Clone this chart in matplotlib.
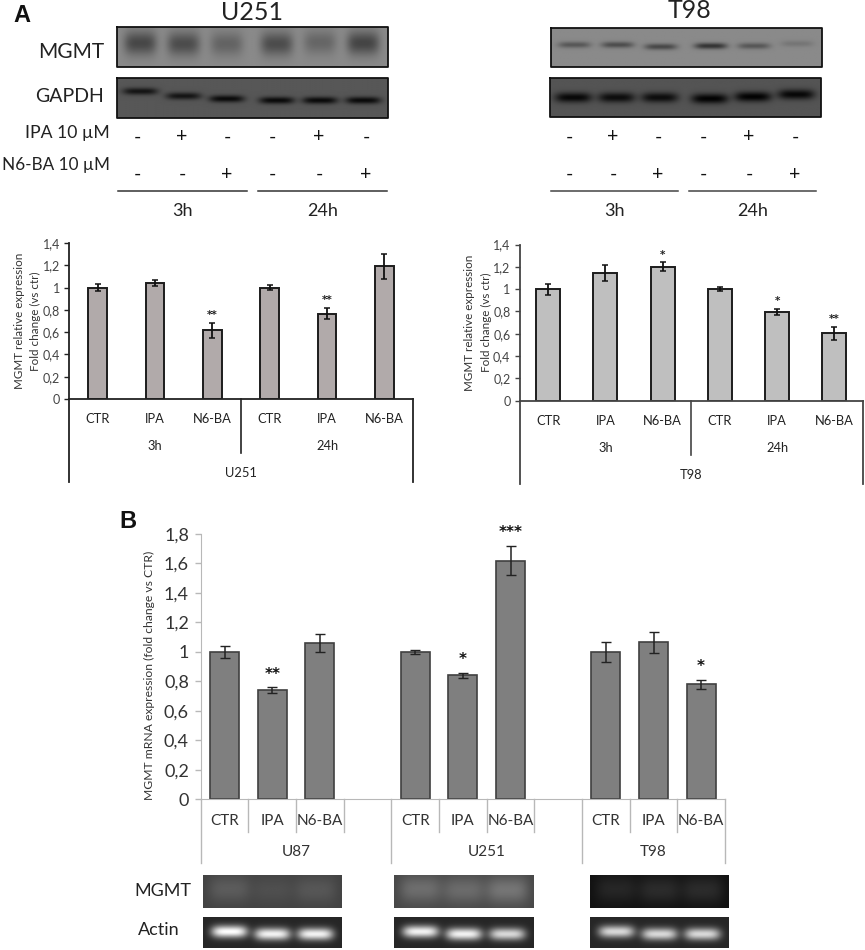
import numpy as np
import matplotlib
matplotlib.use("Agg")
import matplotlib.pyplot as plt

plt.rcParams['font.family'] = ['Lato', 'DejaVu Sans']

W, H = 865, 950

# panel A
cats_a = ['CTR', 'IPA', 'N6-BA', 'CTR', 'IPA', 'N6-BA']
times = ['3h', '24h']
u251_vals = [1.0, 1.04, 0.615, 1.0, 0.765, 1.19]
u251_errs = [0.03, 0.025, 0.07, 0.025, 0.05, 0.11]
u251_stars = ['', '', '**', '', '**', '']
t98_vals = [1.0, 1.145, 1.2, 1.0, 0.795, 0.605]
t98_errs = [0.05, 0.07, 0.04, 0.02, 0.03, 0.06]
t98_stars = ['', '', '*', '', '*', '**']
ipa_signs = ['-', '+', '-', '-', '+', '-']
n6_signs = ['-', '-', '+', '-', '-', '+']

# panel B
cats_b = ['CTR', 'IPA', 'N6-BA']
lines_b = ['U87', 'U251', 'T98']
mrna_vals = [[1.0, 0.74, 1.06], [1.0, 0.84, 1.62], [1.0, 1.065, 0.78]]
mrna_errs = [[0.04, 0.02, 0.06], [0.015, 0.02, 0.1], [0.07, 0.07, 0.03]]
mrna_stars = [['', '**', ''], ['', '*', '***'], ['', '', '*']]

# blot band strengths, one per lane
u251_mgmt = [0.26, 0.24, 0.15, 0.24, 0.14, 0.27]
u251_gapdh = [0.26, 0.26, 0.3, 0.3, 0.3, 0.3]
t98_mgmt = [0.2, 0.24, 0.26, 0.34, 0.2, 0.08]
t98_gapdh = [0.3, 0.28, 0.28, 0.32, 0.32, 0.3]
gel_mgmt = [[0.1, 0.05, 0.08], [0.15, 0.14, 0.18], [0.08, 0.1, 0.1]]
gel_actin = [[0.85, 0.8, 0.8], [0.8, 0.8, 0.7], [0.7, 0.7, 0.7]]


def px_axes(left, top, right, bottom):
    return fig.add_axes([left / W, 1 - bottom / H, (right - left) / W, (bottom - top) / H])


def blot(bg, amps, centers, rows, half_w, half_h, sign):
    # soft bands on a flat background
    ny, nx = 60, 300
    yy, xx = np.mgrid[0:1:ny * 1j, 0:1:nx * 1j]
    img = np.full((ny, nx), bg, dtype=float)
    for amp, c, r in zip(amps, centers, rows):
        img += sign * amp * np.exp(-((xx - c) / half_w) ** 4 - ((yy - r) / half_h) ** 2)
    return np.clip(img, 0, 1)


def show(img, box, border=False):
    left, top, right, bottom = box
    ov.imshow(img, extent=(left, right, bottom, top), cmap='gray', vmin=0, vmax=1,
              aspect='auto', interpolation='bilinear')
    if border:
        ov.plot([left, right, right, left, left], [top, top, bottom, bottom, top], color='#111111', lw=1.3)


def bar_panel(box, vals, errs, stars, color, line_col, title, bar_w, low, mid):
    ax = px_axes(*box)
    w = box[2] - box[0]
    h = box[3] - box[1]
    x = np.arange(6) + 0.5
    ax.bar(x, vals, bar_w, color=color, edgecolor='#1c1c1c', linewidth=1.4)
    ax.errorbar(x, vals, yerr=errs, fmt='none', ecolor='#111111', elinewidth=1.3, capsize=2.2, capthick=1.1)
    for xi, v, e, s in zip(x, vals, errs, stars):
        if s:
            ax.text(xi, v + e + 0.07, s, ha='center', va='center', fontsize=7.5, fontweight='bold',
                    family=['DejaVu Sans'], color='#222222')
    ax.set_xlim(0, 6)
    ax.set_ylim(0, 1.4)
    ax.set_yticks(np.arange(0, 1.41, 0.2))
    ax.set_yticklabels(['0', '0,2', '0,4', '0,6', '0,8', '1', '1,2', '1,4'], fontsize=9, color='#444444')
    ax.set_xticks(x)
    ax.set_xticklabels(cats_a, fontsize=9.3, color='#222222')
    ax.tick_params(axis='x', length=0, pad=10)
    ax.tick_params(axis='y', length=3.5, width=1, color=line_col, pad=3)
    for side in ['top', 'right']:
        ax.spines[side].set_visible(False)
    ax.spines['left'].set_color(line_col)
    ax.spines['left'].set_linewidth(1.3)
    ax.spines['bottom'].set_color(line_col)
    ax.spines['bottom'].set_linewidth(1.3)
    trans = ax.get_xaxis_transform()
    ax.plot([3, 3], [0, -mid / h], color=line_col, lw=1.2, transform=trans, clip_on=False)
    ax.plot([0, 0], [0, -low / h], color=line_col, lw=1.3, transform=trans, clip_on=False)
    ax.plot([6, 6], [0, -low / h], color=line_col, lw=1.3, transform=trans, clip_on=False)
    for xc, t in zip([1.5, 4.5], times):
        ax.text(xc, -47 / h, t, ha='center', va='center', fontsize=9.3, color='#222222', transform=trans)
    ax.text(3, -74 / h, title, ha='center', va='center', fontsize=9.3, color='#222222', transform=trans)
    ax.set_ylabel('MGMT relative expression\nFold change (vs ctr)', fontsize=8.4, color='#333333', linespacing=1.6)
    ax.yaxis.set_label_coords(-28 / w, 0.5)
    return ax


fig = plt.figure(figsize=(W / 100, H / 100), dpi=100)
ov = fig.add_axes([0, 0, 1, 1])
ov.axis('off')

# western blots
lanes = [0.085, 0.245, 0.405, 0.59, 0.75, 0.91]
show(blot(0.54, u251_mgmt, lanes, [0.4, 0.42, 0.42, 0.42, 0.38, 0.4], 0.06, 0.3, -1), (117, 27, 388, 67), True)
show(blot(0.34, u251_gapdh, lanes, [0.33, 0.45, 0.52, 0.56, 0.56, 0.56], 0.065, 0.09, -1), (117, 78, 388, 118), True)
show(blot(0.54, t98_mgmt, lanes, [0.43, 0.43, 0.48, 0.46, 0.46, 0.4], 0.06, 0.08, -1), (551, 28, 822, 67), True)
show(blot(0.33, t98_gapdh, lanes, [0.5, 0.5, 0.5, 0.53, 0.48, 0.42], 0.068, 0.13, -1), (550, 78, 821, 117), True)

ov.text(13, 15, 'A', fontsize=17, fontweight='bold', family=['Liberation Sans'], ha='left', va='center', color='#111111')
ov.text(128, 521, 'B', fontsize=17, fontweight='bold', family=['Liberation Sans'], ha='center', va='center', color='#111111')
ov.text(252, 12, 'U251', fontsize=18, ha='center', va='center', color='#222222')
ov.text(689, 11, 'T98', fontsize=18, ha='center', va='center', color='#222222')
ov.text(104, 52, 'MGMT', fontsize=15, ha='right', va='center', color='#222222')
ov.text(104, 97, 'GAPDH', fontsize=14, ha='right', va='center', color='#222222')
ov.text(110, 133, 'IPA 10 µM', fontsize=12.7, ha='right', va='center', color='#222222')
ov.text(110, 165, 'N6-BA 10 µM', fontsize=12.3, ha='right', va='center', color='#222222')

for xs in ([137, 182, 227, 272, 319, 366], [569, 613, 658, 703, 749, 795]):
    for xp, a, b in zip(xs, ipa_signs, n6_signs):
        ov.text(xp, 137, a, fontsize=14, ha='center', va='center', color='#111111')
        ov.text(xp, 174, b, fontsize=14, ha='center', va='center', color='#111111')

for (a, b), t in zip([(118, 247), (258, 387)], times):
    ov.plot([a, b], [191, 191], color='#333333', lw=1.1)
    ov.text((a + b) / 2, 211, t, fontsize=13, ha='center', va='center', color='#222222')
for (a, b), t in zip([(551, 678), (689, 816)], times):
    ov.plot([a, b], [191, 191], color='#444444', lw=1.1)
    ov.text((a + b) / 2, 211, t, fontsize=13, ha='center', va='center', color='#222222')

# gel strips under panel B
gel_boxes = [(203, 342), (394, 534), (590, 729)]
gel_bgs = [0.26, 0.28, 0.07]
for (a, b), bg, mg, ac in zip(gel_boxes, gel_bgs, gel_mgmt, gel_actin):
    show(blot(bg, mg, [0.19, 0.5, 0.81], [0.42, 0.45, 0.45], 0.15, 0.42, 1), (a, 875, b, 908))
    show(blot(0.15, ac, [0.19, 0.5, 0.81], [0.47, 0.55, 0.55], 0.13, 0.2, 1), (a, 917, b, 948))
ov.text(163, 891, 'MGMT', fontsize=13, ha='center', va='center', color='#222222')
ov.text(159, 930, 'Actin', fontsize=13, ha='center', va='center', color='#222222')
ov.set_xlim(0, W)
ov.set_ylim(H, 0)

# panel A charts
bar_panel((69, 243, 413, 399), u251_vals, u251_errs, u251_stars, '#b1aaaa', '#222222', 'U251', 0.32, 83, 54)
bar_panel((519.5, 244.5, 863, 400.7), t98_vals, t98_errs, t98_stars, '#bfbfbf', '#444444', 'T98', 0.42, 83, 54)

# panel B chart
axb = px_axes(200.7, 534, 725, 799.3)
wb = 725 - 200.7
hb = 799.3 - 534
trans_b = axb.get_xaxis_transform()
for i, name in enumerate(lines_b):
    x = np.arange(3) + 0.5 + 4 * i
    axb.bar(x, mrna_vals[i], 0.61, color='#7f7f7f', edgecolor='#404040', linewidth=1.2)
    axb.errorbar(x, mrna_vals[i], yerr=mrna_errs[i], fmt='none', ecolor='#222222', elinewidth=1.1, capsize=3.5, capthick=1)
    for xi, v, e, s in zip(x, mrna_vals[i], mrna_errs[i], mrna_stars[i]):
        if s:
            axb.text(xi, v + e + 0.09, s, ha='center', va='center', fontsize=11, fontweight='bold',
                     family=['DejaVu Sans'], color='#111111')
    for xi, c in zip(x, cats_b):
        axb.text(xi, -22 / hb, c, ha='center', va='center', fontsize=11, color='#333333', transform=trans_b)
    right = min(4 * (i + 1), 11)
    axb.text((4 * i + right) / 2, -52.5 / hb, name, ha='center', va='center', fontsize=11, color='#333333', transform=trans_b)
for xs in range(12):
    depth = 64 if xs in (0, 4, 8, 11) else 33
    axb.plot([xs, xs], [0, -depth / hb], color='#b8b8b8', lw=1, transform=trans_b, clip_on=False)
axb.set_xlim(0, 11)
axb.set_ylim(0, 1.8)
axb.set_xticks([])
axb.set_yticks(np.arange(0, 1.81, 0.2))
axb.set_yticklabels(['0', '0,2', '0,4', '0,6', '0,8', '1', '1,2', '1,4', '1,6', '1,8'], fontsize=13, color='#333333')
axb.tick_params(axis='y', length=4.5, width=1, color='#b8b8b8', pad=4)
for side in ['top', 'right']:
    axb.spines[side].set_visible(False)
axb.spines['left'].set_color('#b8b8b8')
axb.spines['bottom'].set_color('#b8b8b8')
axb.set_ylabel('MGMT mRNA expression (fold change vs CTR)', fontsize=8.7, color='#333333')
axb.yaxis.set_label_coords(-45.7 / wb, 0.4685)

fig.savefig('out.png', dpi=100)
